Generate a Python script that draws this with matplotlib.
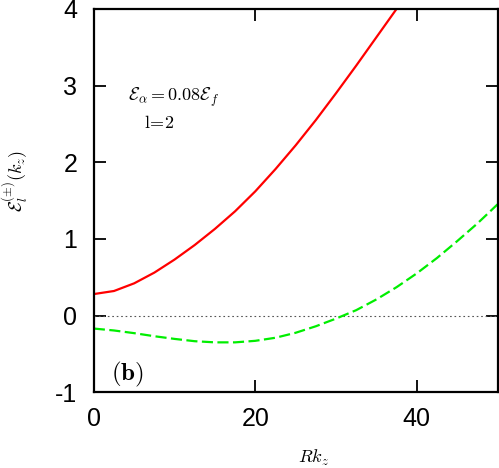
import matplotlib
matplotlib.use("Agg")
import matplotlib.pyplot as plt

plt.rcParams["mathtext.fontset"] = "cm"
plt.rcParams["font.family"] = ["Liberation Sans", "DejaVu Sans"]
plt.rcParams["axes.unicode_minus"] = False

# values
rkz_plus = [0, 2.5, 5, 7.5, 10, 12.5, 15, 17.5, 20, 22.5, 25, 27.5, 30, 32.5, 35, 37.5, 40]
e_plus = [0.28, 0.32, 0.42, 0.56, 0.73, 0.92, 1.13, 1.36, 1.62, 1.91, 2.22, 2.55,
          2.90, 3.26, 3.63, 4.00, 4.37]

rkz_minus = [0, 2.5, 5, 7.5, 10, 12.5, 15, 17.5, 20, 22.5, 25, 27.5, 30, 32.5, 35,
             37.5, 40, 42.5, 45, 47.5, 50]
e_minus = [-0.17, -0.195, -0.23, -0.27, -0.305, -0.335, -0.35, -0.35, -0.33, -0.29,
           -0.225, -0.14, -0.04, 0.07, 0.21, 0.37, 0.55, 0.75, 0.97, 1.20, 1.45]

xticks = [0, 20, 40]
yticks = [-1, 0, 1, 2, 3, 4]

fig = plt.figure(figsize=(4.99, 4.68), dpi=100)
ax = fig.add_axes([0.188, 0.162, 0.809, 0.819])

ax.axhline(0, color="#555555", lw=0.8, ls=(0, (1.5, 2.5)))
ax.plot(rkz_plus, e_plus, color="red", lw=1.6)
ax.plot(rkz_minus, e_minus, color="#00ee00", lw=1.6, dashes=(5, 2))

ax.set_xlim(0, 50)
ax.set_ylim(-1, 4)
ax.set_xticks(xticks)
ax.set_yticks(yticks)
ax.tick_params(direction="in", length=8.5, width=1.3, top=True, right=True,
               labelsize=18)
ax.tick_params(axis="x", pad=11)
ax.tick_params(axis="y", pad=12)
for s in ax.spines.values():
    s.set_linewidth(1.6)

ax.text(4.2, 2.85, r"$\mathcal{E}_\alpha = 0.08\mathcal{E}_f$", fontsize=13,
        ha="left", va="center")
ax.text(6.2, 2.5, r"$\mathrm{l\!=\!2}$", fontsize=13, ha="left", va="center")
ax.text(2.1, -0.77, r"$\mathbf{(b)}$", fontsize=18, ha="left", va="center")

ax.set_xlabel(r"$Rk_z$", fontsize=13)
ax.xaxis.set_label_coords(0.545, -0.146)
ax.set_ylabel(r"$\mathcal{E}_l^{(\pm)}(k_z)$", fontsize=13)
ax.yaxis.set_label_coords(-0.158, 0.55)

fig.savefig("out.png", dpi=100)
